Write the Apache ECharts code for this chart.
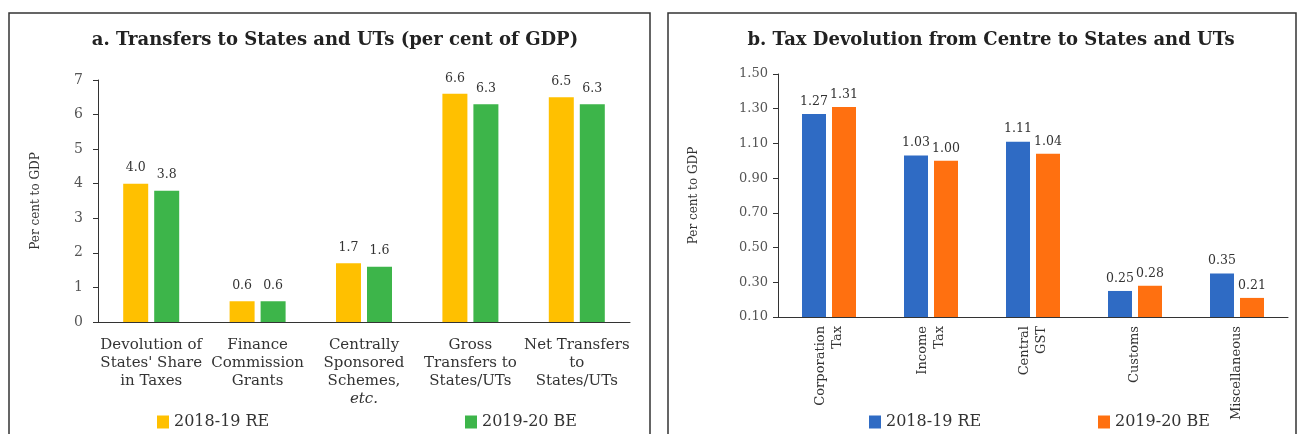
<!DOCTYPE html>
<html>
<head>
<meta charset="utf-8">
<script src="https://cdn.jsdelivr.net/npm/echarts@6/dist/echarts.min.js"></script>
<style>
  html, body { margin: 0; padding: 0; background: #fff; overflow: hidden; }
  #main { width: 1302px; height: 434px; }
</style>
</head>
<body>
<div id="main"></div>
<script>
var myChart = echarts.init(document.getElementById("main"));
window.addEventListener("resize", function () {
  myChart.resize();
});

// panel a
var transferCats = [
  "Devolution of\nStates' Share\nin Taxes",
  "Finance\nCommission\nGrants",
  "Centrally\nSponsored\nSchemes,\netc.",
  "Gross\nTransfers to\nStates/UTs",
  "Net Transfers\nto\nStates/UTs"
];
var transferRE = [4.0, 0.6, 1.7, 6.6, 6.5];
var transferBE = [3.8, 0.6, 1.6, 6.3, 6.3];

// panel b
var taxCats = ["Corporation\nTax", "Income\nTax", "Central\nGST", "Customs", "Miscellaneous"];
var taxRE = [1.27, 1.03, 1.11, 0.25, 0.35];
var taxBE = [1.31, 1.0, 1.04, 0.28, 0.21];

var FONT = "DejaVu Serif";
var axisCol = "#333";

function barLabel(dec, dist) {
  return {
    show: true,
    position: "top",
    distance: dist,
    fontFamily: FONT,
    fontSize: 12.5,
    color: "#333",
    formatter: function (p) { return p.value.toFixed(dec); }
  };
}

function legendItem(name, color, left) {
  return {
    left: left,
    top: 409,
    itemWidth: 12,
    itemHeight: 13,
    itemGap: 0,
    icon: "rect",
    textStyle: { fontFamily: FONT, fontSize: 16, color: "#333" },
    data: [{ name: name, itemStyle: { color: color } }],
    selectedMode: false
  };
}

option = {
  animation: false,
  title: [
    {
      text: "a. Transfers to States and UTs (per cent of GDP)",
      left: 330, top: 26, textAlign: "center",
      textStyle: { fontFamily: FONT, fontWeight: "bold", fontSize: 18, color: "#222" }
    },
    {
      text: "b. Tax Devolution from Centre to States and UTs",
      left: 986, top: 26, textAlign: "center",
      textStyle: { fontFamily: FONT, fontWeight: "bold", fontSize: 18, color: "#222" }
    }
  ],
  legend: [
    legendItem("2018-19 RE", "#FFC000", 152),
    legendItem("2019-20 BE", "#3DB54A", 460),
    legendItem("2018-19 RE", "#2F6BC4", 864),
    legendItem("2019-20 BE", "#FF7010", 1093)
  ],
  graphic: [
    { type: "rect", shape: { x: 9, y: 13, width: 641, height: 460 }, style: { fill: "none", stroke: "#333", lineWidth: 1.5 } },
    { type: "rect", shape: { x: 668, y: 13, width: 628, height: 460 }, style: { fill: "none", stroke: "#333", lineWidth: 1.5 } }
  ],
  grid: [
    { left: 98, top: 80, width: 532, height: 242 },
    { left: 778, top: 74, width: 510, height: 243 }
  ],
  xAxis: [
    {
      type: "category", gridIndex: 0, data: transferCats,
      axisLine: { lineStyle: { color: axisCol } },
      axisTick: { length: 5, lineStyle: { color: axisCol } },
      axisLabel: {
        interval: 0, margin: 14, fontFamily: FONT, fontSize: 15, color: "#333", lineHeight: 18,
        formatter: function (v) { return v.replace("etc.", "{i|etc.}"); },
        rich: { i: { fontStyle: "italic", fontFamily: FONT, fontSize: 15, color: "#333", lineHeight: 18 } }
      }
    },
    {
      type: "category", gridIndex: 1, data: taxCats,
      axisLine: { lineStyle: { color: axisCol } },
      axisTick: { length: 5, lineStyle: { color: axisCol } },
      axisLabel: {
        interval: 0, rotate: 90, margin: 9, fontFamily: FONT, fontSize: 13, color: "#333", lineHeight: 17
      }
    }
  ],
  yAxis: [
    {
      type: "value", gridIndex: 0, min: 0, max: 7, interval: 1,
      name: "Per cent to GDP", nameLocation: "middle", nameGap: 56,
      nameTextStyle: { fontFamily: FONT, fontSize: 12, color: "#333" },
      axisLine: { show: true, lineStyle: { color: axisCol } },
      axisTick: { show: true, length: 5, lineStyle: { color: axisCol } },
      axisLabel: { fontFamily: FONT, fontSize: 14, color: "#555", margin: 15 },
      splitLine: { show: false }
    },
    {
      type: "value", gridIndex: 1, min: 0.1, max: 1.5, interval: 0.2,
      name: "Per cent to GDP", nameLocation: "middle", nameGap: 78,
      nameTextStyle: { fontFamily: FONT, fontSize: 12, color: "#333" },
      axisLine: { show: true, lineStyle: { color: axisCol } },
      axisTick: { show: true, length: 5, lineStyle: { color: axisCol } },
      axisLabel: {
        fontFamily: FONT, fontSize: 13, color: "#555", margin: 10,
        formatter: function (v) { return v.toFixed(2); }
      },
      splitLine: { show: false }
    }
  ],
  series: [
    {
      name: "2018-19 RE", type: "bar", xAxisIndex: 0, yAxisIndex: 0, data: transferRE,
      barWidth: 25, barGap: "24%", itemStyle: { color: "#FFC000" }, label: barLabel(1, 9)
    },
    {
      name: "2019-20 BE", type: "bar", xAxisIndex: 0, yAxisIndex: 0, data: transferBE,
      barWidth: 25, barGap: "24%", itemStyle: { color: "#3DB54A" }, label: barLabel(1, 9)
    },
    {
      name: "2018-19 RE", type: "bar", xAxisIndex: 1, yAxisIndex: 1, data: taxRE,
      barWidth: 24, barGap: "25%", itemStyle: { color: "#2F6BC4" }, label: barLabel(2, 6)
    },
    {
      name: "2019-20 BE", type: "bar", xAxisIndex: 1, yAxisIndex: 1, data: taxBE,
      barWidth: 24, barGap: "25%", itemStyle: { color: "#FF7010" }, label: barLabel(2, 6)
    }
  ]
};

myChart.setOption(option);
</script>
</body>
</html>
